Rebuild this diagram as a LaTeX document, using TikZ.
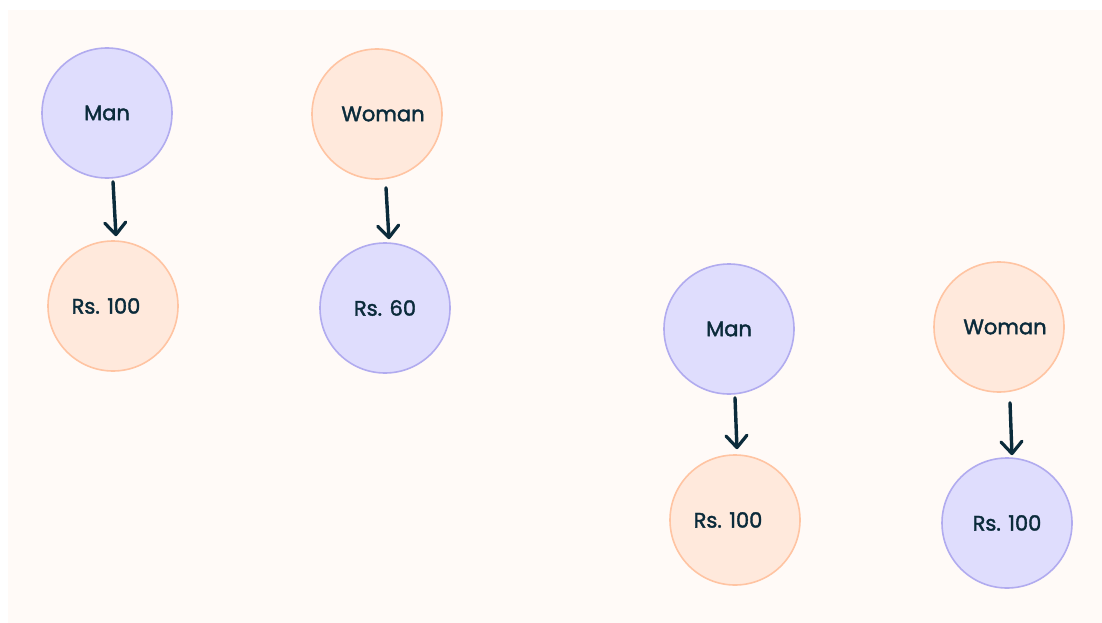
\documentclass[tikz,border=0pt]{standalone}
\usepackage{fontspec}
\setmainfont{Poppins}[FakeBold=1.8]
\usetikzlibrary{arrows.meta}
\definecolor{bgc}{HTML}{FFFAF7}
\definecolor{lavfill}{HTML}{DFDDFD}
\definecolor{lavline}{HTML}{B1ABEF}
\definecolor{pchfill}{HTML}{FFE9DC}
\definecolor{pchline}{HTML}{FFC4A2}
\definecolor{ink}{HTML}{0B2B3B}
\newcommand{\offs}[2]{\hspace*{#1}#2}
\begin{document}
\begin{tikzpicture}[x=1pt,y=-1pt,
  bubble/.style={circle,minimum size=130pt,inner sep=0pt,line width=1.6pt,text=ink,font=\fontsize{21}{24}\selectfont},
  lav/.style={bubble,fill=lavfill,draw=lavline},
  pch/.style={bubble,fill=pchfill,draw=pchline},
  link/.style={draw=ink,line width=3.4pt,line cap=round,-{Straight Barb[length=12pt,width=21pt,line width=3.2pt,round]}}
]
\useasboundingbox (0,0) rectangle (1102,623);
\fill[white] (0,0) rectangle (1102,623);
\fill[bgc] (8,10) rectangle (1102,623);
\node[lav] (m1) at (107,113) {Man};
\node[pch] (r1) at (113,306) {\offs{-14pt}{Rs. 100}};
\node[pch] (w1) at (377,114) {\offs{12pt}{Woman}};
\node[lav] (r2) at (385,308) {Rs. 60};
\node[lav] (m2) at (729,329) {Man};
\node[pch] (r3) at (735,520) {\offs{-14pt}{Rs. 100}};
\node[pch] (w2) at (999,327) {\offs{12pt}{Woman}};
\node[lav] (r4) at (1007,523) {Rs. 100};
\draw[link] ([xshift=6pt,yshift=-3pt]m1.south) -- ([xshift=3pt,yshift=4pt]r1.north);
\draw[link] ([xshift=9pt,yshift=-8pt]w1.south) -- ([xshift=4pt,yshift=3pt]r2.north);
\draw[link] ([xshift=6pt,yshift=-3pt]m2.south) -- ([xshift=2pt,yshift=5pt]r3.north);
\draw[link] ([xshift=11pt,yshift=-10pt]w2.south) -- ([xshift=5pt,yshift=2pt]r4.north);
\end{tikzpicture}
\end{document}
